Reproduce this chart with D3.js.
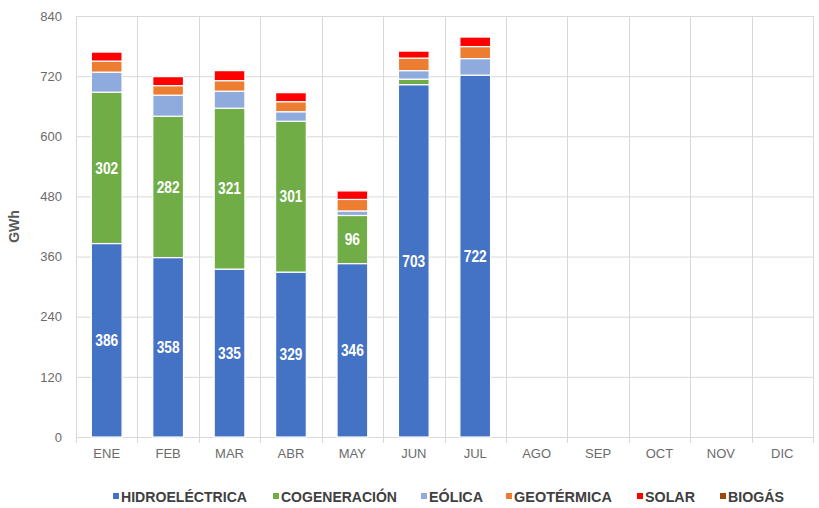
<!DOCTYPE html>
<html>
<head>
<meta charset="utf-8">
<script src="https://cdn.jsdelivr.net/npm/d3@7"></script>
<style>
  html, body { margin: 0; padding: 0; background: #fff; }
  svg text { font-family: "Liberation Sans", Arial, sans-serif; }
</style>
</head>
<body>
<svg id="chart" width="819" height="508"></svg>
<script>
// Monthly generation by source (GWh)
const months = ["ENE", "FEB", "MAR", "ABR", "MAY", "JUN", "JUL", "AGO", "SEP", "OCT", "NOV", "DIC"];
const sources = ["HIDROELÉCTRICA", "COGENERACIÓN", "EÓLICA", "GEOTÉRMICA", "SOLAR", "BIOGÁS"];
const hidroelectrica = [386, 358, 335, 329, 346, 703, 722, 0, 0, 0, 0, 0];
const cogeneracion   = [302, 282, 321, 301, 96, 11, 0, 0, 0, 0, 0, 0];
const eolica         = [40, 42, 34, 19, 9, 17, 33, 0, 0, 0, 0, 0];
const geotermica     = [22, 19, 21, 20, 23, 25, 24, 0, 0, 0, 0, 0];
const solar          = [18, 18, 20, 18, 17, 14, 19, 0, 0, 0, 0, 0];
const biogas         = [0, 0, 0, 0, 0, 0, 0, 0, 0, 0, 0, 0];
const yTicks = [0, 120, 240, 360, 480, 600, 720, 840];
const colors = ["#4472C4", "#70AD47", "#8FAADC", "#ED7D31", "#FF0000", "#9E480E"];
// Series whose segments carry a value label
const labelled = ["HIDROELÉCTRICA", "COGENERACIÓN"];

const seriesValues = [hidroelectrica, cogeneracion, eolica, geotermica, solar, biogas];
const table = months.map((m, i) => {
  const row = { month: m };
  sources.forEach((s, j) => row[s] = seriesValues[j][i]);
  return row;
});

const svg = d3.select("#chart");
const margin = { left: 76, right: 6, top: 16, bottom: 71 };
const W = 819, H = 508;

const x = d3.scaleBand().domain(months).range([margin.left, W - margin.right]).paddingInner(0.5).paddingOuter(0.25);
const y = d3.scaleLinear().domain([0, 840]).range([H - margin.bottom, margin.top]);

const grid = "#d9d9d9";

// horizontal gridlines
svg.append("g").selectAll("line").data(yTicks).join("line")
  .attr("x1", margin.left).attr("x2", W - margin.right)
  .attr("y1", d => y(d) + 0.5).attr("y2", d => y(d) + 0.5)
  .attr("stroke", grid).attr("stroke-width", 1);

// vertical category separators, extending below the baseline as ticks
const step = x.step();
const seps = d3.range(months.length + 1).map(i => margin.left + i * step);
svg.append("g").selectAll("line").data(seps).join("line")
  .attr("x1", d => Math.round(d) + 0.5).attr("x2", d => Math.round(d) + 0.5)
  .attr("y1", margin.top).attr("y2", y(0) + 6)
  .attr("stroke", grid).attr("stroke-width", 1);

// y axis labels
const yAxis = d3.axisLeft(y).tickValues(yTicks).tickSize(0).tickPadding(14);
const gy = svg.append("g").attr("transform", `translate(${margin.left},0)`).call(yAxis);
gy.select(".domain").remove();
gy.selectAll("text").attr("fill", "#6b6b6b").style("font-size", "13px");

// x axis labels
const xAxis = d3.axisBottom(x).tickSize(0).tickPadding(12);
const gx = svg.append("g").attr("transform", `translate(0,${y(0)})`).call(xAxis);
gx.select(".domain").remove();
gx.selectAll("text").attr("fill", "#6b6b6b").style("font-size", "13px");

// y axis title
svg.append("text")
  .attr("transform", `translate(19,${(y(0) + y(840)) / 2}) rotate(-90)`)
  .attr("text-anchor", "middle")
  .attr("fill", "#595959").style("font-size", "14px").style("font-weight", "bold")
  .text("GWh");

// stacked bars
const stack = d3.stack().keys(sources)(table);
const layers = svg.append("g").selectAll("g").data(stack).join("g")
  .attr("fill", (d, i) => colors[i]);
layers.selectAll("rect").data(d => d).join("rect")
  .attr("x", d => x(d.data.month))
  .attr("width", x.bandwidth())
  .attr("y", d => y(d[1]))
  .attr("height", d => Math.max(0, y(d[0]) - y(d[1])))
  .attr("stroke", "#fff").attr("stroke-width", 1.2)
  .attr("display", d => d[1] - d[0] > 0 ? null : "none");

// value labels (condensed bold white)
stack.filter(s => labelled.includes(s.key)).forEach(s => {
  svg.append("g").selectAll("text")
    .data(s.filter(d => d[1] - d[0] >= 40))
    .join("text")
    .attr("transform", d => `translate(${x(d.data.month) + x.bandwidth() / 2},${(y(d[0]) + y(d[1])) / 2}) scale(0.86,1)`)
    .attr("dy", "0.36em")
    .attr("text-anchor", "middle")
    .attr("fill", "#fff")
    .style("font-size", "16px").style("font-weight", "bold")
    .text(d => d[1] - d[0]);
});

// legend
const legendX = [113, 273, 421, 506, 637, 720];
const legendW = [126, 116, 54, 98, 50, 56];
const lg = svg.append("g").selectAll("g").data(sources).join("g")
  .attr("transform", (d, i) => `translate(${legendX[i]},497)`);
lg.append("rect").attr("x", 0).attr("y", -4).attr("width", 6).attr("height", 6)
  .attr("fill", (d, i) => colors[i]);
lg.append("text").attr("x", 8).attr("dy", "0.36em")
  .attr("textLength", (d, i) => legendW[i]).attr("lengthAdjust", "spacingAndGlyphs")
  .attr("fill", "#404040").style("font-size", "15px").style("font-weight", "bold")
  .text(d => d);
</script>
</body>
</html>
